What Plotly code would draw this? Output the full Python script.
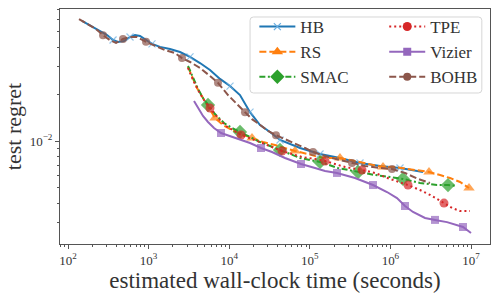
import plotly.graph_objects as go

# ---------------- data ----------------
HB_x = [149, 187, 250, 305, 362, 417, 495, 588, 678, 782, 928, 1102, 1385, 1843, 2453,
        3263, 4342, 5778, 7689, 10230, 13610, 18120, 24110, 32080, 42690, 75580,
        133900, 236900, 419600, 743000, 1315000, 2537000]
HB_y = [0.0588, 0.0554, 0.0507, 0.0478, 0.0444, 0.0431, 0.0438, 0.0464, 0.0478, 0.0471,
        0.0444, 0.0419, 0.0401, 0.0389, 0.0372, 0.0346, 0.0316, 0.0285, 0.0250, 0.0225,
        0.0197, 0.0153, 0.01266, 0.01142, 0.01015, 0.00902, 0.00825, 0.00778, 0.00723,
        0.00692, 0.00671, 0.00633]
HB_marks = [4, 7, 11, 15, 19, 21, 24, 26, 28, 30]

RS_x = [3083, 3455, 3987, 4730, 5458, 6664, 8377, 10830, 14010, 19180, 26270, 37010,
        49240, 65530, 95000, 126400, 178100, 236900, 315400, 419600, 644100, 809600,
        1140000, 1751000, 3012000, 4125000, 5489000, 7302000, 9445000]
RS_y = [0.02982, 0.02572, 0.02186, 0.01886, 0.01677, 0.01404, 0.01266, 0.01176, 0.01109,
        0.01045, 0.00985, 0.00943, 0.00902, 0.00863, 0.00825, 0.00790, 0.00778, 0.00778,
        0.00755, 0.00734, 0.00702, 0.00681, 0.00681, 0.00661, 0.00633, 0.00605, 0.00579,
        0.00546, 0.00500]
RS_marks = [5, 9, 13, 17, 21, 24, 28]

SMAC_x = [3083, 3555, 4103, 4730, 5458, 6664, 8620, 10830, 13610, 18120, 24110, 32080,
          42690, 56790, 75580, 100600, 133900, 223800, 396300, 644100, 988600, 1433000,
          2329000, 3786000, 5184000, 6705000]
SMAC_y = [0.03026, 0.02534, 0.02154, 0.01886, 0.01701, 0.01490, 0.01304, 0.01211, 0.01142,
          0.01061, 0.00985, 0.00929, 0.00876, 0.00825, 0.00778, 0.00755, 0.00734, 0.00671,
          0.00633, 0.00605, 0.00588, 0.00571, 0.00538, 0.00522, 0.00522, 0.00515]
SMAC_marks = [4, 8, 12, 16, 18, 21, 24]

TPE_x = [3083, 3555, 4103, 4868, 5778, 7261, 9127, 11470, 14010, 19180, 25530, 33960,
         45200, 60130, 80030, 116000, 154500, 205500, 273400, 444300, 644100, 988600,
         1653000, 2329000, 3099000, 4624000, 5812000, 7302000, 9719000]
TPE_y = [0.02938, 0.02460, 0.02123, 0.01832, 0.01628, 0.01404, 0.01248, 0.01159, 0.01093,
         0.01030, 0.00971, 0.00915, 0.00863, 0.00825, 0.00790, 0.00767, 0.00744, 0.00712,
         0.00681, 0.00652, 0.00624, 0.00571, 0.00522, 0.00485, 0.00451, 0.00400, 0.00372,
         0.00356, 0.00356]
TPE_marks = [4, 8, 12, 16, 19, 22, 25]

VIZ_x = [3659, 4103, 4730, 5458, 6477, 7911, 10230, 13610, 18120, 24810, 33960, 49240,
         77770, 116000, 154500, 217500, 363800, 608300, 907600, 1207000, 1518000, 1908000,
         2688000, 3575000, 5038000, 7956000, 10000000]
VIZ_y = [0.01805, 0.01628, 0.01446, 0.01324, 0.01211, 0.01125, 0.01077, 0.01030, 0.00971,
         0.00902, 0.00850, 0.00778, 0.00712, 0.00671, 0.00642, 0.00624, 0.00579, 0.00522,
         0.00471, 0.00431, 0.00383, 0.00351, 0.00321, 0.00312, 0.00302, 0.00281, 0.00257]
VIZ_marks = [5, 9, 12, 15, 17, 20, 23, 25]

BOHB_x = [137, 177, 222, 272, 332, 394, 481, 588, 718, 929, 1200, 1596, 2127, 2597, 3266,
          4346, 5782, 7261, 9661, 12850, 15700, 19190, 24100, 30270, 38080, 49200, 65500,
          87100, 109600, 154500, 237000, 334000, 484000, 743000, 1047000, 1517000,
          2198000, 3097000]
BOHB_y = [0.0605, 0.0562, 0.0522, 0.0477, 0.0443, 0.0425, 0.0451, 0.0465, 0.0465, 0.0432,
          0.0406, 0.0383, 0.0366, 0.0340, 0.0321, 0.0294, 0.0261, 0.0236, 0.0197, 0.0170,
          0.0153, 0.0138, 0.0127, 0.0116, 0.0109, 0.0103, 0.00957, 0.00902, 0.00850,
          0.00801, 0.00755, 0.00723, 0.00692, 0.00671, 0.00662, 0.00624, 0.00571, 0.00538]
BOHB_marks = [3, 6, 9, 13, 17, 20, 24, 28, 31, 34]

x_tickvals = [1e2, 1e3, 1e4, 1e5, 1e6, 1e7]
x_ticktext = ["10<sup>2</sup>", "10<sup>3</sup>", "10<sup>4</sup>",
              "10<sup>5</sup>", "10<sup>6</sup>", "10<sup>7</sup>"]
y_tickvals = [1e-2]
y_ticktext = ["10<sup>\u22122</sup>"]

FONT = "Liberation Serif"

series = [
    # name, x, y, marks, color, dash, symbol, size, legend
    ("HB", HB_x, HB_y, HB_marks, "#1f77b4", "solid", "x-thin", 7, "legend"),
    ("RS", RS_x, RS_y, RS_marks, "#ff7f0e", "7px,3px", "triangle-up", 10, "legend"),
    ("SMAC", SMAC_x, SMAC_y, SMAC_marks, "#2ca02c", "6px,2.5px,2px,2.5px", "diamond", 11, "legend"),
    ("TPE", TPE_x, TPE_y, TPE_marks, "#d62728", "2px,3px", "circle", 9, "legend2"),
    ("Vizier", VIZ_x, VIZ_y, VIZ_marks, "#9467bd", "solid", "square", 8, "legend2"),
    ("BOHB", BOHB_x, BOHB_y, BOHB_marks, "#8c564b", "7px,3px", "circle", 8, "legend2"),
]

fig = go.Figure()
for name, xs, ys, marks, color, dash, symbol, size, leg in series:
    sizes = [size if i in marks else 0 for i in range(len(xs))]
    if symbol == "x-thin":
        mk = dict(symbol=symbol, size=sizes, color="#6aaee0",
                  line=dict(color="#6aaee0", width=1.2))
        mk_leg = dict(symbol=symbol, size=size, color="#6aaee0",
                      line=dict(color="#6aaee0", width=1.2))
    else:
        mk = dict(symbol=symbol, size=sizes, color=color, line=dict(width=0))
        mk_leg = dict(symbol=symbol, size=size, color=color, line=dict(width=0))
    fig.add_trace(go.Scatter(x=xs, y=ys, mode="lines+markers", name=name,
                             line=dict(color=color, width=2, dash=dash),
                             marker=mk, showlegend=False))
    # legend key
    fig.add_trace(go.Scatter(x=[None], y=[None], mode="lines+markers", name=name,
                             line=dict(color=color, width=2, dash=dash),
                             marker=mk_leg, legend=leg, showlegend=True))

axis_common = dict(
    type="log", showgrid=False, zeroline=False, automargin=False,
    showline=True, linecolor="#555", linewidth=1, mirror=True,
    ticks="outside", ticklen=4, tickwidth=1, tickcolor="#555",
    tickfont=dict(family=FONT, size=13, color="#333"),
)

minor_x = [m * 10 ** e for e in range(1, 8) for m in range(2, 10)]
minor_y = [m * 10 ** e for e in (-3, -2) for m in range(2, 10)]

fig.update_xaxes(**axis_common, range=[1.9007, 7.2357],
                 tickvals=x_tickvals, ticktext=x_ticktext,
                 minor=dict(tickvals=minor_x, ticks="outside", ticklen=2, tickcolor="#555"),
                 title=dict(text="estimated wall-clock time (seconds)",
                            font=dict(family=FONT, size=23, color="#333"), standoff=2))
fig.update_yaxes(**axis_common, range=[-2.6603, -1.1538],
                 tickvals=y_tickvals, ticktext=y_ticktext,
                 minor=dict(tickvals=minor_y, ticks="outside", ticklen=2, tickcolor="#555"),
                 title=dict(text="test regret",
                            font=dict(family=FONT, size=22, color="#333"), standoff=2))

# legend frame (matplotlib-like rounded box)
x0, x1, y0, y1 = 0.442, 0.981, 0.6426, 0.966
rx, ry = 0.008, 0.014
path = (f"M{x0+rx},{y1} L{x1-rx},{y1} Q{x1},{y1} {x1},{y1-ry} L{x1},{y0+ry} "
        f"Q{x1},{y0} {x1-rx},{y0} L{x0+rx},{y0} Q{x0},{y0} {x0},{y0+ry} "
        f"L{x0},{y1-ry} Q{x0},{y1} {x0+rx},{y1} Z")
fig.add_shape(type="path", path=path, xref="paper", yref="paper",
              line=dict(color="#d6d6d6", width=1), fillcolor="rgba(255,255,255,0.85)",
              layer="below")

leg_common = dict(bgcolor="rgba(0,0,0,0)", borderwidth=0,
                  font=dict(family=FONT, size=17, color="#333"),
                  xanchor="left", yanchor="top", tracegroupgap=0, itemwidth=36)
fig.update_layout(
    template="none",
    width=500, height=294,
    margin=dict(l=60, r=10, t=9, b=50),
    paper_bgcolor="white", plot_bgcolor="white",
    legend=dict(**leg_common, x=0.452, y=1.0),
    legend2=dict(**leg_common, x=0.754, y=1.0),
    font=dict(family=FONT),
)

fig.write_html("out.html", config={"displayModeBar": False},
               post_script="document.body.style.margin='0';document.body.style.overflow='hidden';")
